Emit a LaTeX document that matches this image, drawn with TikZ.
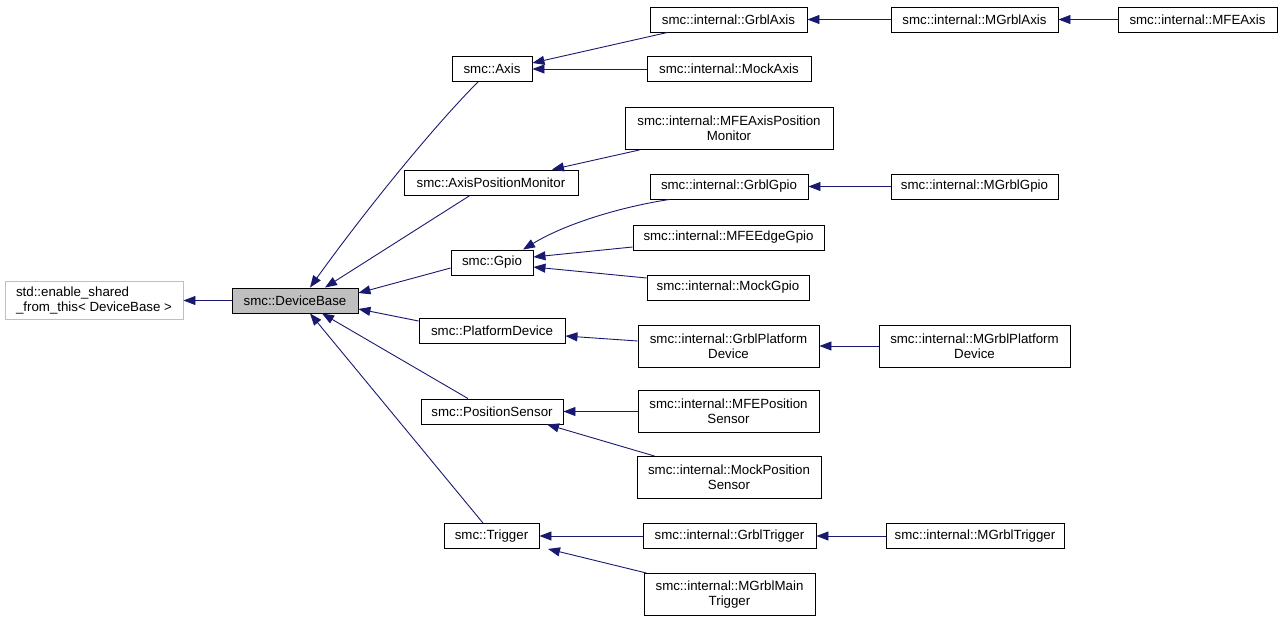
\documentclass[tikz,border=0pt]{standalone}
\usepackage{fontspec}
\setmainfont{Liberation Sans}
\usetikzlibrary{arrows.meta}
\definecolor{edgec}{HTML}{191970}
\definecolor{dbfill}{HTML}{BFBFBF}
\definecolor{greyb}{HTML}{BFBFBF}
\begin{document}
\begin{tikzpicture}[x=1pt,y=-1pt,
  cls/.style={draw=black, line width=0.9pt, inner xsep=3pt, inner ysep=1pt, align=center,
    font=\fontsize{13.3}{15}\selectfont, minimum height=25pt},
  two/.style={minimum height=42pt},
  inh/.style={draw=edgec, line width=0.9pt, -{Triangle[length=12pt,width=9pt]}}
]
\useasboundingbox (0,0) rectangle (1283,621);

% column 1 and 2
\node[cls, draw=greyb, align=left, minimum width=178pt, minimum height=38pt] (esft) at (94,300.5) {std::enable\_shared\\\_from\_this< DeviceBase >};
\node[cls, fill=dbfill, minimum width=126pt] (db) at (295,300.5) {smc::DeviceBase};

% column 3
\node[cls, minimum width=80pt] (axis) at (492,69) {smc::Axis};
\node[cls, minimum width=174pt] (apm) at (491,182.5) {smc::AxisPositionMonitor};
\node[cls, minimum width=82pt] (gpio) at (492,262.5) {smc::Gpio};
\node[cls, minimum width=146pt] (pd) at (492,330.5) {smc::PlatformDevice};
\node[cls, minimum width=142pt] (ps) at (492,411.5) {smc::PositionSensor};
\node[cls, minimum width=95pt] (trig) at (491.5,536) {smc::Trigger};

% column 4
\node[cls, minimum width=157pt] (gaxis) at (728.5,19.5) {smc::internal::GrblAxis};
\node[cls, minimum width=164pt] (maxis) at (729,69) {smc::internal::MockAxis};
\node[cls, two, minimum width=208pt] (mfeapm) at (729,128.5) {smc::internal::MFEAxisPosition\\Monitor};
\node[cls, minimum width=158pt] (ggpio) at (729,186.5) {smc::internal::GrblGpio};
\node[cls, minimum width=191pt] (mfeedge) at (728.5,237.5) {smc::internal::MFEEdgeGpio};
\node[cls, minimum width=162pt] (mgpio) at (728,287.5) {smc::internal::MockGpio};
\node[cls, two, minimum width=181pt] (gpd) at (728.5,346) {smc::internal::GrblPlatform\\Device};
\node[cls, two, minimum width=181pt] (mfeps) at (728.5,411.5) {smc::internal::MFEPosition\\Sensor};
\node[cls, two, minimum width=184pt] (mps) at (729,477.5) {smc::internal::MockPosition\\Sensor};
\node[cls, minimum width=173pt] (gtrig) at (729.5,536) {smc::internal::GrblTrigger};
\node[cls, two, minimum width=171pt] (mtrig) at (729.5,594.5) {smc::internal::MGrblMain\\Trigger};

% column 5
\node[cls, minimum width=167pt] (mgaxis) at (974.5,19.5) {smc::internal::MGrblAxis};
\node[cls, minimum width=167pt] (mggpio) at (974.5,186.5) {smc::internal::MGrblGpio};
\node[cls, two, minimum width=191pt] (mgpd) at (974.5,346) {smc::internal::MGrblPlatform\\Device};
\node[cls, minimum width=178pt] (mgtrig) at (975,536) {smc::internal::MGrblTrigger};

% column 6
\node[cls, minimum width=159pt] (mfeaxis) at (1197.5,19.5) {smc::internal::MFEAxis};

% edges to DeviceBase
\draw[inh] (db.west) -- (esft.east);
\draw[inh] ([xshift=-14pt]axis.south) .. controls (432,128) and (362,215) .. ([xshift=15pt]db.north);
\draw[inh] ([xshift=-21pt]apm.south) -- ([xshift=30pt]db.north);
\draw[inh] ([yshift=-5.5pt]gpio.west) -- ([yshift=7.5pt]db.east);
\draw[inh] ([yshift=9.5pt]pd.west) -- ([yshift=-8.5pt]db.east);
\draw[inh] ([xshift=-24pt]ps.north) -- ([xshift=27pt]db.south);
\draw[inh] ([xshift=-8.5pt]trig.north) -- ([xshift=15pt]db.south);

% edges column 4 -> 3
\draw[inh] ([xshift=18pt]gaxis.south west) -- ([yshift=6pt]axis.east);
\draw[inh] (maxis.west) -- (axis.east);
\draw[inh] ([xshift=15pt]mfeapm.south west) -- ([xshift=61pt]apm.north);
\draw[inh] ([xshift=20pt]ggpio.south west) .. controls (620,207) and (565,224) .. ([xshift=31pt]gpio.north);
\draw[inh] ([yshift=-9.5pt]mfeedge.west) -- ([yshift=5.5pt]gpio.east);
\draw[inh] ([yshift=9.5pt]mgpio.west) -- ([yshift=-4.5pt]gpio.east);
\draw[inh] ([yshift=5pt]gpd.west) -- ([yshift=-5.5pt]pd.east);
\draw[inh] (mfeps.west) -- (ps.east);
\draw[inh] ([xshift=18pt]mps.north west) -- ([xshift=55pt]ps.south);
\draw[inh] (gtrig.west) -- (trig.east);
\draw[inh] ([xshift=3pt]mtrig.north west) -- ([xshift=56.5pt]trig.south);

% edges column 5/6
\draw[inh] (mgaxis.west) -- (gaxis.east);
\draw[inh] (mfeaxis.west) -- (mgaxis.east);
\draw[inh] (mggpio.west) -- (ggpio.east);
\draw[inh] (mgpd.west) -- (gpd.east);
\draw[inh] (mgtrig.west) -- (gtrig.east);
\end{tikzpicture}
\end{document}
